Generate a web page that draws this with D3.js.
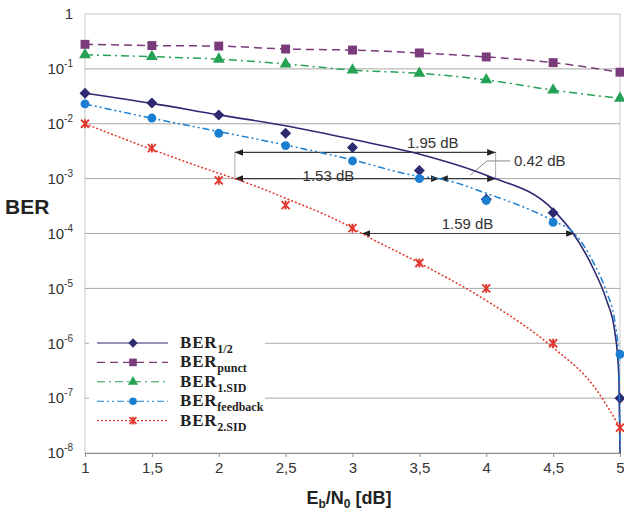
<!DOCTYPE html>
<html>
<head>
<meta charset="utf-8">
<script src="https://cdn.jsdelivr.net/npm/d3@7"></script>
<style>
  body { margin: 0; background: #fff; }
  svg { font-family: Arial, "Liberation Sans", sans-serif; }
</style>
</head>
<body>
<svg id="ber-graph" width="624" height="514"></svg>
<script>
const width = 624;
const height = 514;
const marginTop = 14;
const marginRight = 4;
const marginBottom = 61;
const marginLeft = 85;

// measured points (Eb/N0 in dB)
const ebn0 = [1, 1.5, 2, 2.5, 3, 3.5, 4, 4.5, 5];
const ber12 = [3.6e-2, 2.4e-2, 1.45e-2, 6.7e-3, 3.7e-3, 1.4e-3, 4.2e-4, 2.4e-4, 1e-7];
const berPunct = [0.28, 0.266, 0.26, 0.23, 0.22, 0.195, 0.165, 0.13, 0.087];
const ber1Sid = [0.18, 0.167, 0.15, 0.123, 0.095, 0.083, 0.063, 0.041, 0.029];
const berFeedback = [2.3e-2, 1.27e-2, 6.7e-3, 4e-3, 2.1e-3, 1.0e-3, 4.0e-4, 1.6e-4, 6.3e-7];
const ber2Sid = [1e-2, 3.6e-3, 9.3e-4, 3.3e-4, 1.25e-4, 2.9e-5, 1e-5, 1e-6, 2.9e-8];

// trend lines
const trend12X = [1, 1.5, 2, 2.5, 3, 3.5, 4, 4.5, 4.65, 4.8, 4.9, 4.96, 4.99, 5];
const trend12Y = [3.6e-2, 2.35e-2, 1.45e-2, 9.2e-3, 5.2e-3, 2.8e-3, 1.15e-3, 2.7e-4, 1e-4, 2.3e-5, 6e-6, 1.7e-6, 3e-7, 1e-8];
const trendFbX = [1, 1.5, 2, 2.5, 3, 3.5, 3.65, 4, 4.5, 4.66, 4.8, 4.9, 4.96, 4.99, 5];
const trendFbY = [2.3e-2, 1.26e-2, 7.2e-3, 4.1e-3, 2.2e-3, 1.1e-3, 1e-3, 5.4e-4, 1.7e-4, 1e-4, 3e-5, 8.5e-6, 2.6e-6, 6e-7, 1e-8];
const trend2X = [1, 1.5, 2, 2.12, 2.5, 3, 3.07, 3.5, 4, 4.5, 4.8, 5];
const trend2Y = [1e-2, 3.4e-3, 1.25e-3, 1e-3, 4.4e-4, 1.25e-4, 1e-4, 2.9e-5, 6e-6, 8.3e-7, 1.7e-7, 2.9e-8];

const xTicks = [1, 1.5, 2, 2.5, 3, 3.5, 4, 4.5, 5];
const yExponents = [0, -1, -2, -3, -4, -5, -6, -7, -8];

// dB gap annotations
const gaps = [
  { x1: 2.12, x2: 4.07, y: 3e-3, label: "1.95 dB", lx: 3.6, ly: 4.5e-3 },
  { x1: 2.12, x2: 3.65, y: 1e-3, label: "1.53 dB", lx: 2.82, ly: 1.15e-3 },
  { x1: 3.65, x2: 4.07, y: 1e-3, label: "", lx: 0, ly: 0 },
  { x1: 3.07, x2: 4.66, y: 1e-4, label: "1.59 dB", lx: 3.86, ly: 1.5e-4 }
];
const note042 = { label: "0.42 dB", lx: 4.4, ly: 2.1e-3 };

const svg = d3.select("#ber-graph");

const x = d3.scaleLinear()
  .domain([1, 5])
  .range([marginLeft, width - marginRight]);

const y = d3.scaleLog()
  .domain([1e-8, 1])
  .range([height - marginBottom, marginTop]);

// frame + grid
svg.append("rect")
  .attr("x", x(1)).attr("y", y(1))
  .attr("width", x(5) - x(1)).attr("height", y(1e-8) - y(1))
  .attr("fill", "none").attr("stroke", "#c8c8c8");

svg.append("g")
  .attr("stroke", "#a8a8a8")
  .selectAll("line")
  .data(yExponents.slice(1, -1))
  .join("line")
  .attr("x1", x(1)).attr("x2", x(5))
  .attr("y1", (d) => y(Math.pow(10, d))).attr("y2", (d) => y(Math.pow(10, d)));

// x axis
svg.append("g")
  .attr("transform", `translate(0,${y(1e-8)})`)
  .call(d3.axisBottom(x).tickValues(xTicks).tickSizeInner(4).tickSizeOuter(0).tickPadding(5)
    .tickFormat((d) => String(d).replace(".", ",")))
  .call((g) => g.select(".domain").attr("stroke", "#8c8c8c"))
  .call((g) => g.selectAll(".tick line").attr("stroke", "#8c8c8c"))
  .call((g) => g.selectAll(".tick text").attr("font-size", 15).attr("fill", "#333").attr("font-family", "Arial, 'Liberation Sans', sans-serif"));

// y axis with 10^n labels
svg.append("g")
  .attr("transform", `translate(${marginLeft},0)`)
  .call(d3.axisLeft(y).tickValues(yExponents.map((e) => Math.pow(10, e))).tickSize(0).tickPadding(12).tickFormat(() => ""))
  .call((g) => g.select(".domain").remove())
  .call((g) => g.selectAll(".tick text")
    .attr("font-size", 15).attr("fill", "#333").attr("font-family", "Arial, 'Liberation Sans', sans-serif")
    .each(function (d) {
      const t = d3.select(this);
      const e = Math.round(Math.log10(d));
      if (e === 0) { t.text("1"); return; }
      t.append("tspan").text("10");
      t.append("tspan").attr("font-size", 10).attr("dy", "-0.7em").text(e);
    }));

svg.append("text")
  .attr("x", 5).attr("y", 214)
  .attr("font-size", 21).attr("font-weight", "bold").attr("fill", "#222")
  .text("BER");

const xl = svg.append("text")
  .attr("x", 349).attr("y", 504)
  .attr("text-anchor", "middle")
  .attr("font-size", 18).attr("font-weight", "bold").attr("fill", "#222");
xl.append("tspan").text("E");
xl.append("tspan").attr("font-size", 12).attr("dy", 4).text("b");
xl.append("tspan").attr("dy", -4).text("/N");
xl.append("tspan").attr("font-size", 12).attr("dy", 4).text("0");
xl.append("tspan").attr("dy", -4).text(" [dB]");

// annotations
svg.append("defs").append("marker")
  .attr("id", "arr").attr("viewBox", "0 0 10 10").attr("refX", 10).attr("refY", 5)
  .attr("markerWidth", 7).attr("markerHeight", 7).attr("orient", "auto-start-reverse")
  .append("path").attr("d", "M0,1L10,5L0,9Z").attr("fill", "#222");

const ann = svg.append("g").attr("stroke", "#3a3a3a");

// end guides of the 1.95 dB span
ann.selectAll("line.guide")
  .data([gaps[0].x1, gaps[0].x2])
  .join("line")
  .attr("class", "guide")
  .attr("stroke", "#aaa")
  .attr("x1", (d) => x(d)).attr("x2", (d) => x(d))
  .attr("y1", y(gaps[0].y)).attr("y2", y(1e-3));

ann.selectAll("line.gap")
  .data(gaps)
  .join("line")
  .attr("class", "gap")
  .attr("x1", (d) => x(d.x1)).attr("x2", (d) => x(d.x2))
  .attr("y1", (d) => y(d.y)).attr("y2", (d) => y(d.y))
  .attr("stroke-width", 1.2)
  .attr("marker-start", "url(#arr)").attr("marker-end", "url(#arr)");

// leader for 0.42 dB
ann.append("path")
  .attr("fill", "none").attr("stroke", "#888")
  .attr("d", `M${x(4.18)},${y(2.1e-3)}H${x(4.005)}L${x(3.88)},${y(1.15e-3)}`);

svg.append("g")
  .attr("font-size", 15).attr("fill", "#333")
  .selectAll("text")
  .data(gaps.filter((d) => d.label).concat([note042]))
  .join("text")
  .attr("x", (d) => x(d.lx)).attr("y", (d) => y(d.ly))
  .attr("dy", "0.35em")
  .attr("text-anchor", "middle")
  .text((d) => d.label);

// series
const line = d3.line()
  .x((d) => x(d[0]))
  .y((d) => y(d[1]))
  .curve(d3.curveMonotoneX);

const series = [
  { name: "1/2", vals: ber12, tx: trend12X, ty: trend12Y, color: "#2d2a72", dash: null, sym: "diamond" },
  { name: "punct", vals: berPunct, tx: ebn0, ty: berPunct, color: "#7a3b7a", dash: "8,5", sym: "square" },
  { name: "1.SID", vals: ber1Sid, tx: ebn0, ty: ber1Sid, color: "#26a257", dash: "8,4,2,4", sym: "triangle" },
  { name: "feedback", vals: berFeedback, tx: trendFbX, ty: trendFbY, color: "#1b7fd1", dash: "7,3,2,3,2,3", sym: "circle" },
  { name: "2.SID", vals: ber2Sid, tx: trend2X, ty: trend2Y, color: "#e0362c", dash: "2,2", sym: "star" }
];

function drawSymbol(g, type, color, k = 1) {
  if (type === "star") {
    g.append("path")
      .attr("d", `M${-4 * k},${-4 * k}L${4 * k},${4 * k}M${-4 * k},${4 * k}L${4 * k},${-4 * k}M0,${-4.5 * k}L0,${4.5 * k}`)
      .attr("stroke", color).attr("stroke-width", 1.8).attr("fill", "none");
    return;
  }
  if (type === "diamond") {
    const r = 5.5 * k;
    g.append("path").attr("d", `M0,${-r}L${r},0L0,${r}L${-r},0Z`).attr("fill", color);
    return;
  }
  const sym = { square: d3.symbolSquare, triangle: d3.symbolTriangle, circle: d3.symbolCircle }[type];
  const size = { square: 80, triangle: 62, circle: 62 }[type] * k * k;
  g.append("path").attr("d", d3.symbol(sym, size)()).attr("fill", color);
}

series.forEach((s) => {
  svg.append("path")
    .datum(d3.zip(s.tx, s.ty))
    .attr("fill", "none")
    .attr("stroke", s.color)
    .attr("stroke-width", s.sym === "diamond" ? 1.6 : 1.5)
    .attr("stroke-dasharray", s.dash)
    .attr("d", line);

  svg.append("g")
    .selectAll("g")
    .data(d3.zip(ebn0, s.vals))
    .join("g")
    .attr("transform", (d) => `translate(${x(d[0])},${y(d[1])})`)
    .each(function () { drawSymbol(d3.select(this), s.sym, s.color); });
});

// legend
const legend = svg.append("g");
legend.append("rect")
  .attr("x", 89).attr("y", 332).attr("width", 176).attr("height", 98)
  .attr("fill", "#fff");

const rows = legend.selectAll("g.row")
  .data(series)
  .join("g")
  .attr("class", "row")
  .attr("transform", (d, i) => `translate(0,${343 + i * 19.4})`);

rows.append("line")
  .attr("x1", 97).attr("x2", 168)
  .attr("stroke", (d) => d.color).attr("stroke-width", 1.1)
  .attr("stroke-dasharray", (d) => d.dash);

rows.append("g")
  .attr("transform", "translate(133,0)")
  .each(function (d) { drawSymbol(d3.select(this), d.sym, d.color, 0.85); });

const lt = rows.append("text")
  .attr("x", 180).attr("y", 5)
  .attr("font-family", "'Liberation Serif', 'Times New Roman', serif")
  .attr("font-weight", "bold").attr("font-size", 17).attr("letter-spacing", 0.8).attr("fill", "#222");
lt.append("tspan").text("BER");
lt.append("tspan").attr("font-size", 12).attr("letter-spacing", 0).attr("dy", 5).text((d) => d.name);
</script>
</body>
</html>
